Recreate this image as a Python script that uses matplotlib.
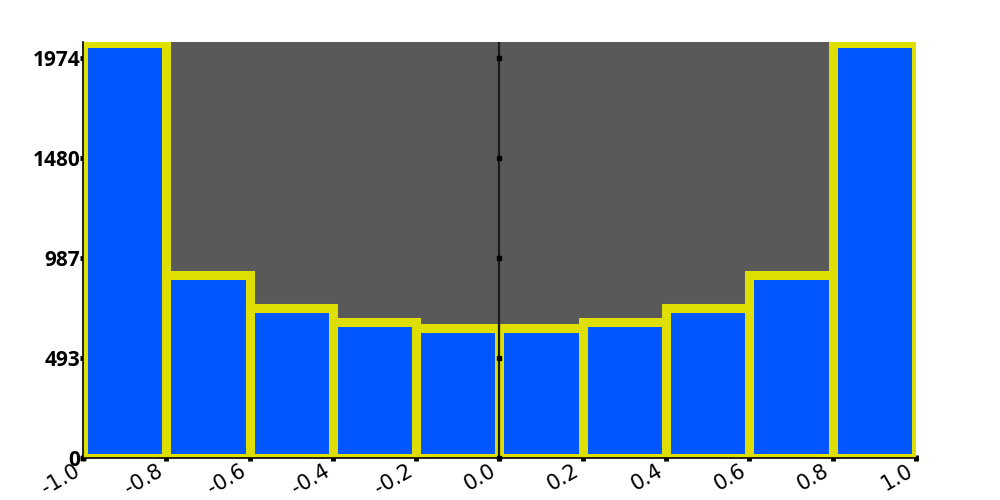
import numpy as np
import matplotlib
matplotlib.use("Agg")
from matplotlib import pyplot as plt

# histogram bins and counts
bin_edges = [-1.0, -0.8, -0.6, -0.4, -0.2, 0.0, 0.2, 0.4, 0.6, 0.8, 1.0]
counts = [2048, 903, 738, 669, 641, 641, 669, 738, 903, 2048]
y_ticks = [0, 493.5, 987, 1480.5, 1974]
y_labels = ['0', '493', '987', '1480', '1974']
x_ticks = [-1.0, -0.8, -0.6, -0.4, -0.2, 0.0, 0.2, 0.4, 0.6, 0.8, 1.0]
x_labels = ['-1.0', '-0.8', '-0.6', '-0.4', '-0.2', '0.0', '0.2', '0.4', '0.6', '0.8', '1.0']

fig = plt.figure(figsize=(10, 5), dpi=100)
ax = fig.add_axes([0.083, 0.084, 0.833, 0.832])
ax.set_facecolor('#595959')

widths = np.diff(bin_edges)
ax.bar(bin_edges[:-1], counts, width=widths, align='edge',
       color='#0057ff', edgecolor='#dede00', linewidth=6.5, zorder=2)

ax.set_xlim(-1.0, 1.0)
ax.set_ylim(0, 2053)

# centre line with tick dots
ax.axvline(0, color='#1a1a1a', lw=1.6, zorder=3)
ax.plot([0] * len(y_ticks), y_ticks, 's', ms=3.5, color='black', zorder=4, clip_on=False)

ax.set_yticks(y_ticks)
ax.set_yticklabels(y_labels, fontsize=15, fontweight='bold', family='Open Sans')
ax.set_xticks(x_ticks)
ax.set_xticklabels(x_labels, fontsize=15, rotation=30, ha='right')

ax.tick_params(axis='both', direction='inout', length=4, width=3.5, color='black', pad=0)

for s in ['top', 'right']:
    ax.spines[s].set_visible(False)
for s in ['left', 'bottom']:
    ax.spines[s].set_color('black')
    ax.spines[s].set_linewidth(1.2)
    ax.spines[s].set_zorder(5)

fig.savefig('out.png', dpi=100)
